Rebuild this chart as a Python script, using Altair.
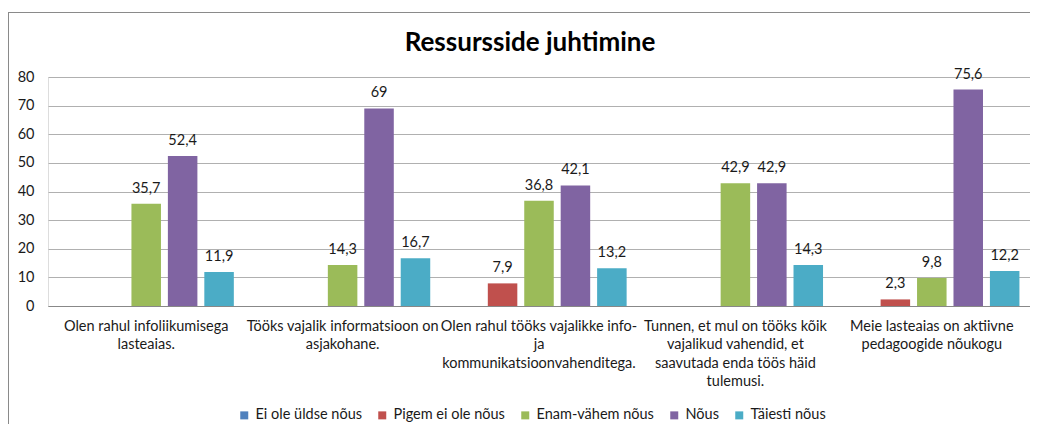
import altair as alt
import pandas as pd

title_text = "Ressursside juhtimine"
series = ["Ei ole üldse nõus", "Pigem ei ole nõus", "Enam-vähem nõus", "Nõus", "Täiesti nõus"]
colors = ["#4F81BD", "#C0504D", "#9BBB59", "#8064A2", "#4BACC6"]
category_lines = [
    ["Olen rahul infoliikumisega", "lasteaias."],
    ["Tööks vajalik informatsioon on", "asjakohane."],
    ["Olen rahul tööks vajalikke info-", "ja", "kommunikatsioonvahenditega."],
    ["Tunnen, et mul on tööks kõik", "vajalikud vahendid, et", "saavutada enda töös häid", "tulemusi."],
    ["Meie lasteaias on aktiivne", "pedagoogide nõukogu"],
]
ei_ole_yldse = [None, None, None, None, None]
pigem_ei_ole = [None, None, 7.9, None, 2.3]
enam_vahem = [35.7, 14.3, 36.8, 42.9, 9.8]
nous = [52.4, 69, 42.1, 42.9, 75.6]
taiesti = [11.9, 16.7, 13.2, 14.3, 12.2]
y_ticks = [0, 10, 20, 30, 40, 50, 60, 70, 80]

categories = ["|".join(l) for l in category_lines]
all_vals = [ei_ole_yldse, pigem_ei_ole, enam_vahem, nous, taiesti]
rows = []
for s, vals in zip(series, all_vals):
    for c, v in zip(categories, vals):
        if v is not None:
            rows.append({"cat": c, "series": s, "value": v,
                         "label": f"{v:g}".replace(".", ",")})
df = pd.DataFrame(rows)

W, H = 982, 229
FONT = "Lato"
FS = 14.5
TXT = "#1a1a1a"

x_axis = alt.Axis(labelExpr="split(datum.value, '|')", labelAngle=0,
                  labelLimit=400, ticks=False, domainColor="#888888",
                  labelPadding=13, labelFontSize=FS, labelColor=TXT,
                  labelLineHeight=18.5, labelFont=FONT)
y_axis = alt.Axis(values=y_ticks, ticks=False, domain=False,
                  labelOverlap=False,
                  gridColor="#B0B0B0", labelPadding=14, labelFontSize=FS,
                  labelColor=TXT, labelFont=FONT)
x_scale = alt.Scale(paddingInner=0, paddingOuter=0)
xo_scale = alt.Scale(domain=series, paddingInner=0.19, paddingOuter=0.29)
y_scale = alt.Scale(domain=[0, 80], nice=False)

def x_enc():
    return alt.X("cat:N", sort=categories, title=None, scale=x_scale, axis=x_axis)

def xo_enc():
    return alt.XOffset("series:N", sort=series, scale=xo_scale)

def y_enc():
    return alt.Y("value:Q", title=None, scale=y_scale, axis=y_axis)

bars = alt.Chart(df).mark_bar().encode(
    x=x_enc(), xOffset=xo_enc(), y=y_enc(),
    color=alt.Color("series:N", sort=series,
                    scale=alt.Scale(domain=series, range=colors),
                    legend=alt.Legend(orient="none", direction="horizontal",
                                      legendX=189, legendY=331, title=None,
                                      symbolType="square", symbolSize=64,
                                      symbolStrokeWidth=0, labelFontSize=FS,
                                      labelFont=FONT, labelColor=TXT,
                                      labelOffset=4, columnPadding=13)),
)

labels = alt.Chart(df).mark_text(baseline="alphabetic", dy=-11, fontSize=FS,
                                 font=FONT, color=TXT).encode(
    x=x_enc(), xOffset=xo_enc(), y=y_enc(), text="label:N")

one = pd.DataFrame({"t": [title_text]})
title_mark = alt.Chart(one).mark_text(fontSize=26, fontWeight="bold", font=FONT,
                                      color="#000000", baseline="alphabetic",
                                      align="center").encode(
    text="t:N", x=alt.value(482), y=alt.value(-26))

border_top = alt.Chart(one).mark_rule(color="#8a8a8a", strokeWidth=1).encode(
    x=alt.value(-40), x2=alt.value(W + 10), y=alt.value(-64.5))
border_left = alt.Chart(one).mark_rule(color="#8a8a8a", strokeWidth=1).encode(
    x=alt.value(-39.5), y=alt.value(-64.5), y2=alt.value(H + 125))

chart = alt.layer(bars, labels, title_mark, border_top, border_left).properties(
    width=W, height=H, autosize="none",
    padding={"left": 40, "top": 69, "right": 0, "bottom": 118},
).configure_view(stroke=None).configure(font=FONT)

chart.save("out.html", embed_options={"renderer": "svg", "actions": False})
